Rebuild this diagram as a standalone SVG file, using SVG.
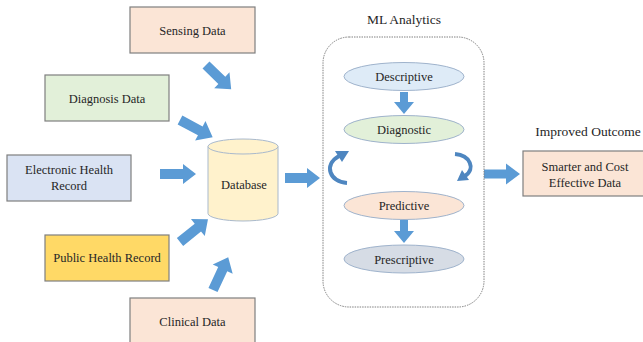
<svg xmlns="http://www.w3.org/2000/svg" width="643" height="342" viewBox="0 0 643 342">
<style>
text{font-family:"Liberation Serif","Times New Roman",serif;font-size:12.5px;fill:#262626;text-anchor:middle}
.box{stroke:#7f7f7f;stroke-width:1.2}
.peach{fill:#fbe5d6}.green{fill:#e2f0d9}.blue{fill:#dae3f3}.gold{fill:#ffd966}
.ell{stroke:#9fb3cc;stroke-width:1}
.arr{fill:#5b9bd5}
.curve{fill:none;stroke:#4e86c0;stroke-width:4}
.head{fill:#4e86c0}
.title{font-size:13.5px}
</style>
<rect width="643" height="342" fill="#ffffff"/>
<g id="connectors">
<polygon class="arr" transform="translate(206,65) rotate(44)" points="0,-5 22,-5 22,-11 35,0 22,11 22,5 0,5"/>
<polygon class="arr" transform="translate(180,120) rotate(28)" points="0,-5 23,-5 23,-11 37,0 23,11 23,5 0,5"/>
<polygon class="arr" transform="translate(160,174)" points="0,-5 23,-5 23,-10 36,0 23,10 23,5 0,5"/>
<polygon class="arr" transform="translate(180,242) rotate(-39)" points="0,-5 23,-5 23,-11 36,0 23,11 23,5 0,5"/>
<polygon class="arr" transform="translate(213,290) rotate(-65)" points="0,-5 23,-5 23,-11 36,0 23,11 23,5 0,5"/>
<polygon class="arr" transform="translate(285,178)" points="0,-5 22,-5 22,-10 35,0 22,10 22,5 0,5"/>
<polygon class="arr" transform="translate(484,174)" points="0,-4.5 22,-4.5 22,-10.5 36,0 22,10.5 22,4.5 0,4.5"/>
<polygon class="arr" transform="translate(404,92) rotate(90)" points="0,-4 10,-4 10,-10 22,0 10,10 10,4 0,4"/>
<polygon class="arr" transform="translate(404,220) rotate(90)" points="0,-4 11,-4 11,-10 23,0 11,10 11,4 0,4"/>
<path class="curve" d="M347,183 C330,182 323,165 339,156"/>
<polygon class="head" points="349,151 335,151 342,162"/>
<path class="curve" d="M455,154 C470,155 476,169 465,176"/>
<polygon class="head" points="457,181 462,170 469,180"/>
</g>
<g id="sensing">
<rect class="box peach" x="130" y="7" width="125" height="46"/>
<text x="192.5" y="35">Sensing Data</text>
</g>
<g id="diagnosis">
<rect class="box green" x="45" y="75" width="124" height="46"/>
<text x="107" y="103">Diagnosis Data</text>
</g>
<g id="ehr">
<rect class="box blue" x="7" y="155" width="124" height="46"/>
<text x="69" y="174">Electronic Health</text>
<text x="69" y="190">Record</text>
</g>
<g id="public">
<rect class="box gold" x="45" y="235" width="124" height="46"/>
<text x="107" y="262">Public Health Record</text>
</g>
<g id="clinical">
<rect class="box peach" x="130" y="298" width="125" height="50"/>
<text x="192.5" y="326">Clinical Data</text>
</g>
<g id="database">
<path d="M208,146.5 V213.5 A35,7.5 0 0 0 278,213.5 V146.5" fill="#fff2cc" stroke="#a9b9cc" stroke-width="1"/>
<ellipse cx="243" cy="146.5" rx="35" ry="7.5" fill="#fff2cc" stroke="#a9b9cc" stroke-width="1"/>
<text x="244" y="189">Database</text>
</g>
<g id="ml-analytics">
<text class="title" x="404" y="24">ML Analytics</text>
<rect x="323" y="37" width="161" height="270" rx="26" fill="none" stroke="#808080" stroke-width="1" stroke-dasharray="1.5,1"/>
</g>
<g id="descriptive">
<ellipse class="ell" cx="404" cy="76.5" rx="60" ry="14" fill="#deebf7"/>
<text x="404" y="81">Descriptive</text>
</g>
<g id="diagnostic">
<ellipse class="ell" cx="404" cy="129.5" rx="60" ry="14" fill="#e2f0d9"/>
<text x="404" y="134">Diagnostic</text>
</g>
<g id="predictive">
<ellipse class="ell" cx="404" cy="205.5" rx="60" ry="14" fill="#fbe5d6"/>
<text x="404" y="210">Predictive</text>
</g>
<g id="prescriptive">
<ellipse class="ell" cx="404" cy="259" rx="60" ry="14" fill="#d6dce5"/>
<text x="404" y="263.5">Prescriptive</text>
</g>
<g id="outcome">
<text class="title" x="588" y="136">Improved Outcome</text>
<rect class="box peach" x="523" y="151" width="125" height="45"/>
<text x="585" y="171">Smarter and Cost</text>
<text x="585" y="187">Effective Data</text>
</g>
</svg>
